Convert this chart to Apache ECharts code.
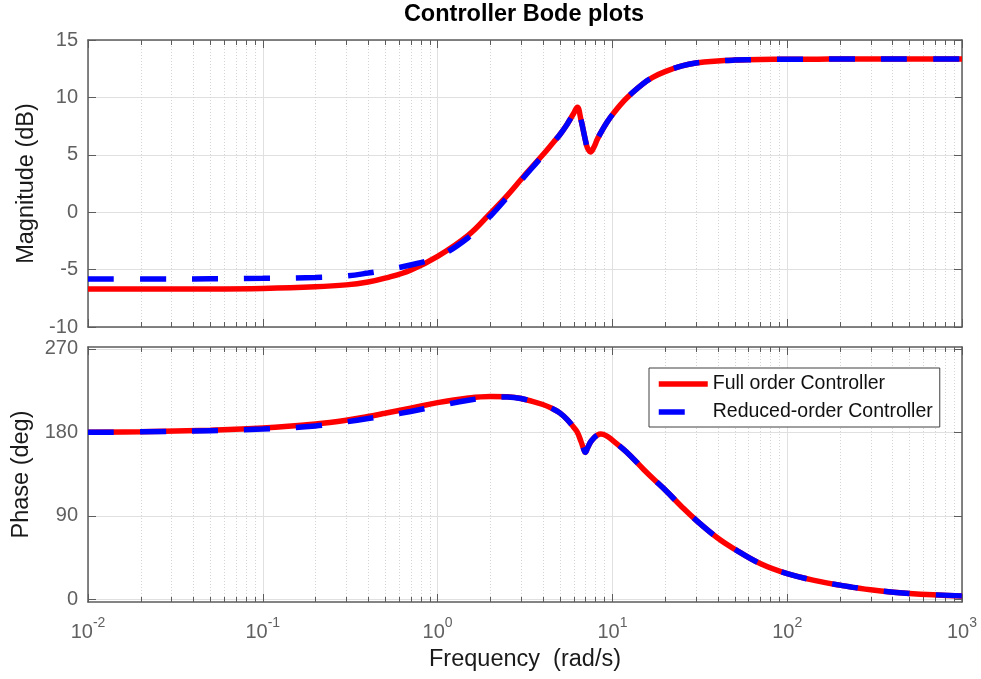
<!DOCTYPE html>
<html>
<head>
<meta charset="utf-8">
<script src="https://cdn.jsdelivr.net/npm/echarts@6.0.0/dist/echarts.min.js"></script>
<style>
  html, body { margin: 0; padding: 0; background: #fff; }
  #chart { width: 981px; height: 679px; }
</style>
</head>
<body>
<div id="chart"></div>
<script>
// frequency samples (rad/s), shared by all curves
const freqs = [0.01, 0.02, 0.05, 0.1, 0.2, 0.3, 0.4, 0.5, 0.7, 1, 1.5, 2, 2.5, 3, 4, 4.6, 5, 5.5, 6, 6.3, 6.6, 6.9, 7.0, 7.2, 7.5, 7.8, 8.2, 8.6, 9.2, 10, 12, 15, 17, 20, 25, 30, 40, 50, 70, 100, 150, 200, 300, 500, 1000];

// magnitude (dB)
const magFull = [-6.70, -6.70, -6.69, -6.64, -6.50, -6.33, -6.08, -5.75, -5.05, -3.85, -2.0, -0.1, 1.45, 2.85, 5.0, 6.1, 6.75, 7.65, 8.6, 9.15, 8.1, 6.75, 6.3, 5.6, 5.25, 5.6, 6.35, 6.95, 7.7, 8.5, 9.9, 11.2, 11.75, 12.25, 12.75, 13.0, 13.18, 13.25, 13.3, 13.32, 13.33, 13.34, 13.35, 13.35, 13.35];
const magReduced = [-5.82, -5.82, -5.80, -5.76, -5.68, -5.55, -5.30, -5.05, -4.60, -3.90, -2.2, -0.35, 1.3, 2.75, 4.95, 6.1, 6.75, 7.65, 8.6, 9.15, 8.1, 6.75, 6.3, 5.6, 5.25, 5.6, 6.35, 6.95, 7.7, 8.5, 9.9, 11.2, 11.75, 12.25, 12.75, 13.0, 13.18, 13.25, 13.3, 13.32, 13.33, 13.34, 13.35, 13.35, 13.35];

// phase (deg)
const phaseFull = [180.0, 180.6, 182.3, 184.6, 189, 193, 197, 200.5, 206, 212, 217, 218.7, 218.3, 216.5, 210, 205, 201, 194, 185.5, 180, 170.5, 160.5, 158.5, 163, 169.5, 173.5, 177, 178.2, 176.5, 171.5, 159, 140.5, 130.5, 118, 99.5, 85.5, 66, 54, 38.5, 27.6, 19.5, 15.2, 10.2, 6.2, 3.6];
const phaseReduced = [180.0, 180.5, 181.8, 183.5, 186.8, 191.3, 194.8, 197.5, 202.5, 208.3, 214.5, 217.6, 218.2, 216.5, 210, 205, 201, 194, 185.5, 180, 170.5, 160.5, 158.5, 163, 169.5, 173.5, 177, 178.2, 176.5, 171.5, 159, 140.5, 130.5, 118, 99.5, 85.5, 66, 54, 38.5, 27.6, 19.5, 15.2, 10.2, 6.2, 3.6];

const magTicks = [-10, -5, 0, 5, 10, 15];
const phaseTicks = [0, 90, 180, 270];

const seriesNames = ['Full order Controller', 'Reduced-order Controller'];

// minor log ticks 2..9 per decade
const minorFreqs = [];
for (let e = -2; e < 3; e++) {
  for (let m = 2; m <= 9; m++) {
    minorFreqs.push([m * Math.pow(10, e)]);
  }
}

const FONT = '"Liberation Sans", Arial, sans-serif';
const BOX = '#5c5c5c';
const LABEL = '#606060';
const GRIDC = '#e0e0e0';

function pairs(xs, ys) {
  return xs.map((x, i) => [x, ys[i]]);
}

function renderMinor(params, api) {
  const cs = params.coordSys;
  const x = Math.round(api.coord([api.value(0), 0])[0]) + 0.5;
  return {
    type: 'group',
    silent: true,
    children: [
      { type: 'line', shape: { x1: x, y1: cs.y, x2: x, y2: cs.y + cs.height },
        style: { stroke: '#d4d4d4', lineWidth: 1, lineDash: [1, 2] } },
      { type: 'line', shape: { x1: x, y1: cs.y, x2: x, y2: cs.y + 5 },
        style: { stroke: BOX, lineWidth: 1 } },
      { type: 'line', shape: { x1: x, y1: cs.y + cs.height - 5, x2: x, y2: cs.y + cs.height },
        style: { stroke: BOX, lineWidth: 1 } }
    ]
  };
}

function logAxis(gridIndex, position, withLabels) {
  return {
    type: 'log',
    logBase: 10,
    gridIndex: gridIndex,
    position: position,
    min: 0.01,
    max: 1000,
    splitNumber: 5,
    axisLine: { show: true, onZero: false, lineStyle: { color: BOX, width: 1.5 } },
    axisTick: { show: true, inside: true, length: 8, lineStyle: { color: BOX } },
    splitLine: { show: position === 'bottom', lineStyle: { color: GRIDC, width: 1 } },
    axisLabel: {
      show: withLabels,
      margin: 14,
      color: LABEL,
      fontFamily: FONT,
      formatter: function (v) {
        return '{b|10}{sup|' + Math.round(Math.log10(v)) + '}';
      },
      rich: {
        b: { fontSize: 20, fontFamily: FONT, color: LABEL, lineHeight: 26, verticalAlign: 'bottom' },
        sup: { fontSize: 14, fontFamily: FONT, color: LABEL, lineHeight: 26, verticalAlign: 'top', padding: [0, 0, 6, 0] }
      }
    }
  };
}

function valueAxis(gridIndex, position, min, max, ticks, name, nameGap) {
  return {
    type: 'value',
    gridIndex: gridIndex,
    position: position,
    min: min,
    max: max,
    name: name,
    nameLocation: 'middle',
    nameGap: nameGap,
    nameTextStyle: { fontSize: 23.5, fontFamily: FONT, color: '#1a1a1a' },
    axisLine: { show: true, onZero: false, lineStyle: { color: BOX, width: 1.5 } },
    axisTick: { show: true, inside: true, length: 8, customValues: ticks, lineStyle: { color: BOX } },
    axisLabel: {
      show: position === 'left',
      customValues: ticks,
      margin: 10,
      fontSize: 20,
      fontFamily: FONT,
      color: LABEL
    },
    splitLine: { show: position === 'left', lineStyle: { color: GRIDC, width: 1 } }
  };
}

const chart = echarts.init(document.getElementById('chart'), null, { renderer: 'canvas' });

const bottomX = logAxis(1, 'bottom', true);
bottomX.name = 'Frequency  (rad/s)';
bottomX.nameLocation = 'middle';
bottomX.nameGap = 46;
bottomX.nameTextStyle = { fontSize: 23.5, fontFamily: FONT, color: '#1a1a1a' };

const lineBase = { type: 'line', symbol: 'none', smooth: 0.4 };

const option = {
  animation: false,
  backgroundColor: '#fff',
  title: {
    text: 'Controller Bode plots',
    left: 524,
    top: 3,
    padding: 0,
    textAlign: 'center',
    textStyle: { fontSize: 23.5, fontWeight: 'bold', fontFamily: FONT, color: '#000' }
  },
  legend: {
    data: seriesNames,
    orient: 'vertical',
    left: 649,
    top: 368,
    padding: [6, 7, 5, 7],
    itemGap: 8,
    itemWidth: 49,
    itemHeight: 14,
    borderColor: '#404040',
    borderWidth: 1,
    borderRadius: 0,
    backgroundColor: '#fff',
    itemStyle: { opacity: 0 },
    lineStyle: { width: 5.5 },
    textStyle: { fontSize: 19.5, fontFamily: FONT, color: '#111' }
  },
  grid: [
    { left: 88, top: 40, width: 874, height: 287 },
    { left: 88, top: 347, width: 874, height: 255 }
  ],
  xAxis: [
    logAxis(0, 'bottom', false),
    logAxis(0, 'top', false),
    bottomX,
    logAxis(1, 'top', false)
  ],
  yAxis: [
    valueAxis(0, 'left', -10, 15, magTicks, 'Magnitude (dB)', 48),
    valueAxis(0, 'right', -10, 15, magTicks, '', 0),
    valueAxis(1, 'left', -3, 272, phaseTicks, 'Phase (deg)', 53),
    valueAxis(1, 'right', -3, 272, phaseTicks, '', 0)
  ],
  series: [
    { type: 'custom', xAxisIndex: 0, yAxisIndex: 0, renderItem: renderMinor, data: minorFreqs, z: 1, silent: true },
    { type: 'custom', xAxisIndex: 2, yAxisIndex: 2, renderItem: renderMinor, data: minorFreqs, z: 1, silent: true },
    Object.assign({}, lineBase, {
      name: seriesNames[0], xAxisIndex: 0, yAxisIndex: 0, data: pairs(freqs, magFull),
      lineStyle: { color: '#ff0000', width: 5.5 }, itemStyle: { color: '#ff0000' }, z: 3
    }),
    Object.assign({}, lineBase, {
      name: seriesNames[1], xAxisIndex: 0, yAxisIndex: 0, data: pairs(freqs, magReduced),
      lineStyle: { color: '#0000ff', width: 5.5, type: [26, 26] }, itemStyle: { color: '#0000ff' }, z: 4
    }),
    Object.assign({}, lineBase, {
      name: seriesNames[0], xAxisIndex: 2, yAxisIndex: 2, data: pairs(freqs, phaseFull),
      lineStyle: { color: '#ff0000', width: 5.5 }, itemStyle: { color: '#ff0000' }, z: 3
    }),
    Object.assign({}, lineBase, {
      name: seriesNames[1], xAxisIndex: 2, yAxisIndex: 2, data: pairs(freqs, phaseReduced),
      lineStyle: { color: '#0000ff', width: 5.5, type: [26, 26] }, itemStyle: { color: '#0000ff' }, z: 4
    })
  ]
};

chart.setOption(option);
</script>
</body>
</html>
